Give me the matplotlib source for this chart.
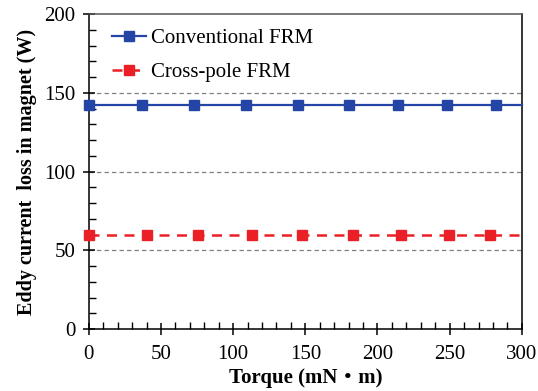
import matplotlib
matplotlib.use("Agg")
import matplotlib.pyplot as plt
from matplotlib.ticker import MultipleLocator

plt.rcParams["font.family"] = ["Liberation Serif", "Noto Sans CJK JP"]

# torque sweep points and loss values
torque_conv = [0, 37, 73, 109, 145, 180, 214, 248, 282, 300]
loss_conv = [142, 142, 142, 142, 142, 142, 142, 142, 142, 142]

torque_cross = [0, 40, 76, 113, 148, 183, 216, 249.5, 278, 300]
loss_cross = [59.5, 59.5, 59.5, 59.5, 59.5, 59.5, 59.5, 59.5, 59.5, 59.5]

fig, ax = plt.subplots(figsize=(5.38, 3.91), dpi=100)
fig.subplots_adjust(left=0.165, right=0.970, top=0.964, bottom=0.158)

for y in (50, 100, 150):
    ax.axhline(y, color="#808080", linestyle=(0, (3.5, 2.5)), linewidth=0.9, zorder=1)

ax.plot(torque_conv, loss_conv, color="#2445a6", linewidth=1.6, marker="s",
        markersize=6.5, markevery=list(range(len(torque_conv) - 1)),
        label="Conventional FRM", zorder=3, clip_on=False)
ax.plot(torque_cross, loss_cross, color="#ea2026", linewidth=1.8, linestyle=(0, (4, 3)),
        marker="s", markersize=6.5, markevery=list(range(len(torque_cross) - 1)),
        label="Cross-pole FRM", zorder=3, clip_on=False)

ax.set_xlim(0, 300)
ax.set_ylim(0, 200)
ax.xaxis.set_major_locator(MultipleLocator(50))
ax.xaxis.set_minor_locator(MultipleLocator(10))
ax.yaxis.set_major_locator(MultipleLocator(50))
ax.yaxis.set_minor_locator(MultipleLocator(10))
ax.tick_params(which="major", direction="inout", length=9, width=1.1, labelsize=15)
ax.tick_params(axis="x", which="major", pad=7)
ax.tick_params(axis="y", which="major", pad=5)
ax.tick_params(which="minor", direction="in", length=5, width=1.0)

ax.spines["top"].set_color("#555555")
for s in ax.spines.values():
    s.set_linewidth(1.1)

ax.set_xlabel("Torque (mN\u30fbm)", fontsize=15, fontweight="bold", labelpad=3)
ax.set_ylabel("Eddy current  loss in magnet (W)", fontsize=14.5, fontweight="bold", labelpad=5)

ax.legend(loc="upper left", frameon=False, fontsize=15, handlelength=1.6,
          handletextpad=0.25, borderaxespad=0.0, labelspacing=0.7,
          bbox_to_anchor=(0.035, 0.98))

fig.savefig("out.png", dpi=100)
